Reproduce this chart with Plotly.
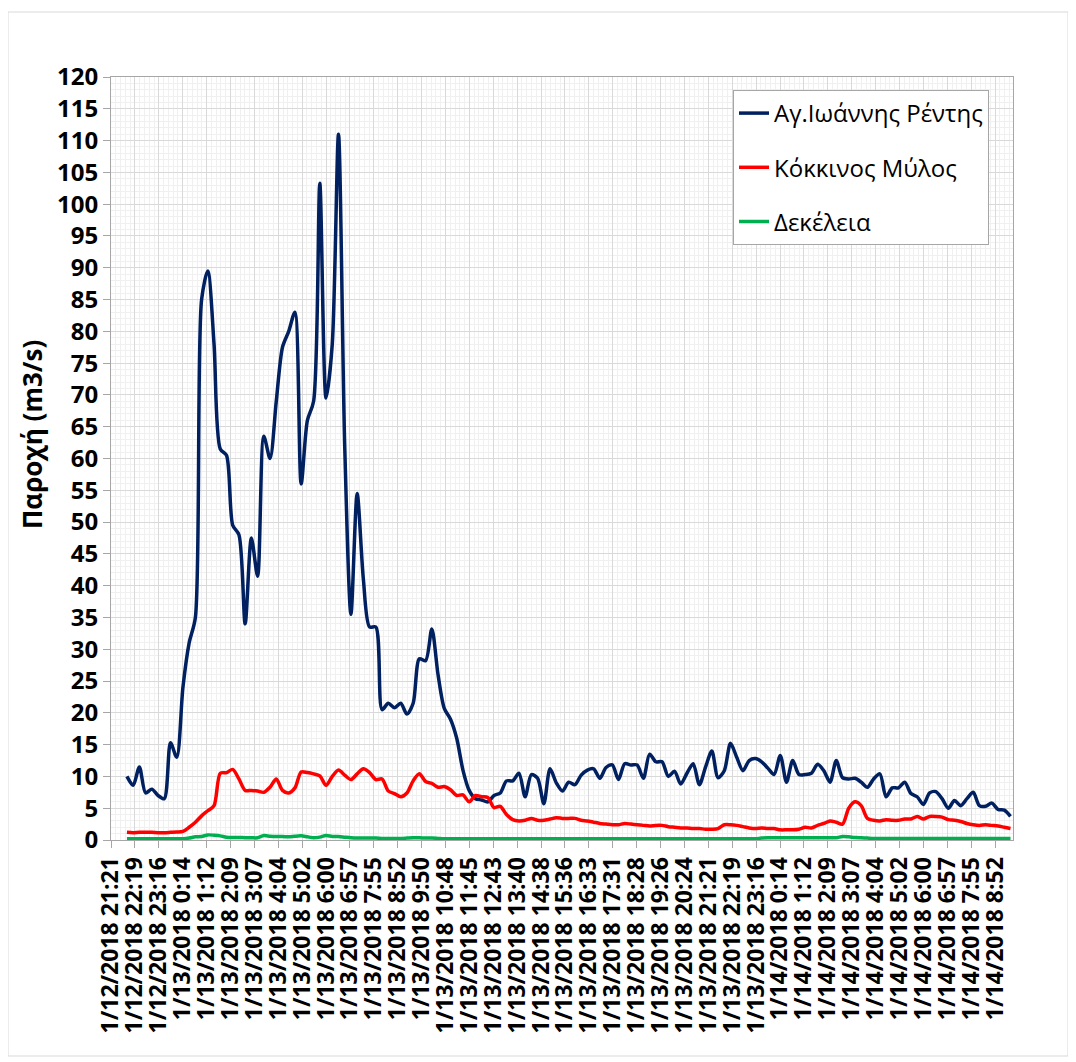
import pandas as pd
import plotly.graph_objects as go

# 15-minute readings starting 1/12/2018 22:00
start_time = "2018-01-12 22:00"
step = "15min"

rentis = [10, 8.6, 11.5, 7.4, 8, 7, 6.5, 15.3, 13, 24,
          31, 35, 85, 89.5, 78, 61.5, 60.5, 49.5, 48, 34,
          47.5, 41.5, 63.5, 60, 69, 77.5, 80, 83, 56, 66,
          69, 103.3, 69.5, 78, 111, 62, 35.5, 54.5, 41, 33.5,
          33.5, 20.5, 21.5, 20.8, 21.5, 19.8, 21.5, 28.5, 28.2, 33.2,
          26, 20.7, 19, 16, 11, 7.8, 6.5, 6.3, 6, 7,
          7.4, 9.3, 9.3, 10.5, 6.8, 10.3, 9.7, 5.7, 11.2, 9,
          7.7, 9.1, 8.7, 10.2, 11, 11.2, 9.7, 11.4, 11.8, 9.5,
          12, 11.8, 11.8, 9.7, 13.5, 12.3, 12.3, 10, 10.8, 8.8,
          10.5, 12, 8.7, 11.5, 14, 9.8, 10.9, 15.2, 13, 10.9,
          12.5, 12.8, 12.3, 11.3, 10.3, 13.3, 9.1, 12.5, 10.3, 10.3,
          10.5, 11.9, 10.9, 9.1, 12.5, 9.8, 9.6, 9.7, 9.1, 8.3,
          9.6, 10.4, 6.8, 8.2, 8.2, 9.1, 7.3, 6.8, 5.6, 7.4,
          7.6, 6.5, 5, 6.2, 5.4, 6.5, 7.5, 5.4, 5.3, 5.8,
          4.8, 4.7, 3.7]

kokkinos = [1.2, 1.15, 1.2, 1.2, 1.2, 1.15, 1.15, 1.2, 1.25, 1.35,
            2.0, 2.8, 3.8, 4.6, 5.4, 10.5, 10.6, 11.1, 9.6, 7.8,
            7.8, 7.7, 7.5, 8.3, 9.6, 7.8, 7.4, 8.2, 10.7, 10.6,
            10.4, 10.1, 8.6, 10, 11, 10.2, 9.5, 10.4, 11.2, 10.6,
            9.5, 9.6, 7.7, 7.3, 6.8, 7.4, 9.3, 10.4, 9.2, 8.9,
            8.3, 8.4, 7.9, 7.0, 7.1, 6.0, 7.0, 6.8, 6.7, 5.1,
            5.3, 4.0, 3.2, 3.0, 3.1, 3.4, 3.1, 3.1, 3.3, 3.5,
            3.4, 3.4, 3.4, 3.1, 3.0, 2.8, 2.6, 2.5, 2.4, 2.4,
            2.6, 2.5, 2.4, 2.3, 2.2, 2.3, 2.3, 2.1, 2.0, 1.9,
            1.9, 1.8, 1.8, 1.7, 1.7, 1.8, 2.4, 2.4, 2.3, 2.1,
            1.9, 1.8, 1.9, 1.8, 1.8, 1.6, 1.6, 1.6, 1.7, 2.0,
            1.9, 2.3, 2.6, 3.0, 2.8, 2.5, 5.0, 6.0, 5.4, 3.4,
            3.1, 3.0, 3.2, 3.1, 3.1, 3.3, 3.3, 3.7, 3.3, 3.7,
            3.7, 3.6, 3.2, 3.1, 2.9, 2.6, 2.4, 2.3, 2.4, 2.3,
            2.2, 2.0, 1.8]

dekeleia = [0.2, 0.2, 0.2, 0.2, 0.2, 0.2, 0.2, 0.2, 0.2, 0.2,
            0.3, 0.5, 0.55, 0.8, 0.75, 0.65, 0.45, 0.4, 0.4, 0.35,
            0.35, 0.35, 0.7, 0.6, 0.55, 0.55, 0.5, 0.6, 0.65, 0.5,
            0.35, 0.45, 0.7, 0.55, 0.55, 0.45, 0.35, 0.3, 0.3, 0.3,
            0.3, 0.25, 0.25, 0.25, 0.25, 0.3, 0.35, 0.35, 0.3, 0.3,
            0.25, 0.2, 0.2, 0.2, 0.2, 0.2, 0.2, 0.2, 0.2, 0.2,
            0.2, 0.2, 0.2, 0.2, 0.2, 0.2, 0.2, 0.2, 0.2, 0.2,
            0.2, 0.2, 0.2, 0.2, 0.2, 0.2, 0.2, 0.2, 0.2, 0.2,
            0.2, 0.2, 0.2, 0.2, 0.2, 0.2, 0.2, 0.2, 0.2, 0.2,
            0.2, 0.2, 0.2, 0.2, 0.2, 0.2, 0.2, 0.2, 0.2, 0.2,
            0.2, 0.2, 0.3, 0.35, 0.35, 0.35, 0.35, 0.35, 0.35, 0.35,
            0.35, 0.35, 0.35, 0.35, 0.35, 0.55, 0.5, 0.4, 0.35, 0.3,
            0.25, 0.25, 0.25, 0.25, 0.25, 0.25, 0.25, 0.25, 0.25, 0.25,
            0.25, 0.25, 0.25, 0.25, 0.25, 0.25, 0.25, 0.25, 0.25, 0.25,
            0.25, 0.25, 0.25]

tick_labels = ["1/12/2018 21:21", "1/12/2018 22:19", "1/12/2018 23:16",
               "1/13/2018 0:14", "1/13/2018 1:12", "1/13/2018 2:09",
               "1/13/2018 3:07", "1/13/2018 4:04", "1/13/2018 5:02",
               "1/13/2018 6:00", "1/13/2018 6:57", "1/13/2018 7:55",
               "1/13/2018 8:52", "1/13/2018 9:50", "1/13/2018 10:48",
               "1/13/2018 11:45", "1/13/2018 12:43", "1/13/2018 13:40",
               "1/13/2018 14:38", "1/13/2018 15:36", "1/13/2018 16:33",
               "1/13/2018 17:31", "1/13/2018 18:28", "1/13/2018 19:26",
               "1/13/2018 20:24", "1/13/2018 21:21", "1/13/2018 22:19",
               "1/13/2018 23:16", "1/14/2018 0:14", "1/14/2018 1:12",
               "1/14/2018 2:09", "1/14/2018 3:07", "1/14/2018 4:04",
               "1/14/2018 5:02", "1/14/2018 6:00", "1/14/2018 6:57",
               "1/14/2018 7:55", "1/14/2018 8:52"]

times = pd.date_range(start_time, periods=len(rentis), freq=step)

axis_origin = pd.Timestamp("2018-01-12 21:21:36")
major = pd.Timedelta(minutes=57.6)
tick_vals = [axis_origin + k * major for k in range(len(tick_labels))]
minor_vals = [axis_origin + k * major / 5 for k in range(5 * len(tick_labels) + 4)]
x_end = pd.Timestamp("2018-01-14 09:36")

fig = go.Figure()
series = [("Αγ.Ιωάννης Ρέντης", rentis, "#002060"),
          ("Κόκκινος Μύλος", kokkinos, "#FF0000"),
          ("Δεκέλεια", dekeleia, "#00B050")]
for name, vals, color in series:
    fig.add_trace(go.Scatter(x=times, y=vals, name=name, mode="lines",
                             legendgroup=name,
                             line=dict(color=color, width=3.5, shape="spline", smoothing=0.8)))

grid_major = "#d9d9d9"
grid_minor = "#f0f0f0"
axis_col = "#a6a6a6"

fig.update_xaxes(type="date", range=[axis_origin, x_end],
                 tickmode="array", tickvals=tick_vals, ticktext=tick_labels,
                 tickangle=-90,
                 tickfont=dict(family="Open Sans", size=23, color="black", weight="bold"),
                 showgrid=True, gridcolor=grid_major, gridwidth=1,
                 minor=dict(tickmode="array", tickvals=minor_vals, showgrid=True,
                            gridcolor=grid_minor, gridwidth=1, ticks=""),
                 showline=True, linecolor=axis_col, linewidth=1, mirror=True,
                 ticks="outside", ticklen=7, tickcolor=axis_col, zeroline=False)

fig.update_yaxes(range=[0, 120], tickmode="linear", tick0=0, dtick=5,
                 tickfont=dict(family="Open Sans", size=24, color="black", weight="bold"),
                 showgrid=True, gridcolor=grid_major, gridwidth=1,
                 minor=dict(dtick=1, showgrid=True, gridcolor=grid_minor, gridwidth=1, ticks=""),
                 showline=True, linecolor=axis_col, linewidth=1, mirror=True,
                 ticks="outside", ticklen=7, tickcolor=axis_col, zeroline=False)

# figure sits 8px in from the page corner
W, H = 1068, 1054
pl, pr, pt, pb = 103, 1005, 69, 832
pw, ph = pr - pl, pb - pt

fig.add_shape(type="rect", xref="paper", yref="paper",
              x0=(0 - pl) / pw, x1=(1060 - pl) / pw,
              y0=(pb - 1048) / ph, y1=(pb - 4) / ph,
              line=dict(color="#d9d9d9", width=1), fillcolor="rgba(0,0,0,0)", layer="below")

fig.add_annotation(text="<b>Παροχή (m3/s)</b>", textangle=-90, showarrow=False,
                   xref="paper", yref="paper",
                   x=(24 - pl) / pw, y=(pb - 427) / ph,
                   xanchor="center", yanchor="middle",
                   font=dict(family="Open Sans", size=26, color="black"))

fig.update_layout(
    width=W, height=H,
    margin=dict(l=pl, r=W - pr, t=pt, b=H - pb),
    plot_bgcolor="white", paper_bgcolor="white",
    font=dict(family="Open Sans", color="black"),
    showlegend=True,
    legend=dict(x=(725 - pl) / pw, y=(pb - 82) / ph, xanchor="left", yanchor="top",
                bgcolor="white", bordercolor=axis_col, borderwidth=1,
                font=dict(family="Open Sans", size=24, color="black"),
                tracegroupgap=20),
)

fig.write_html("out.html")
